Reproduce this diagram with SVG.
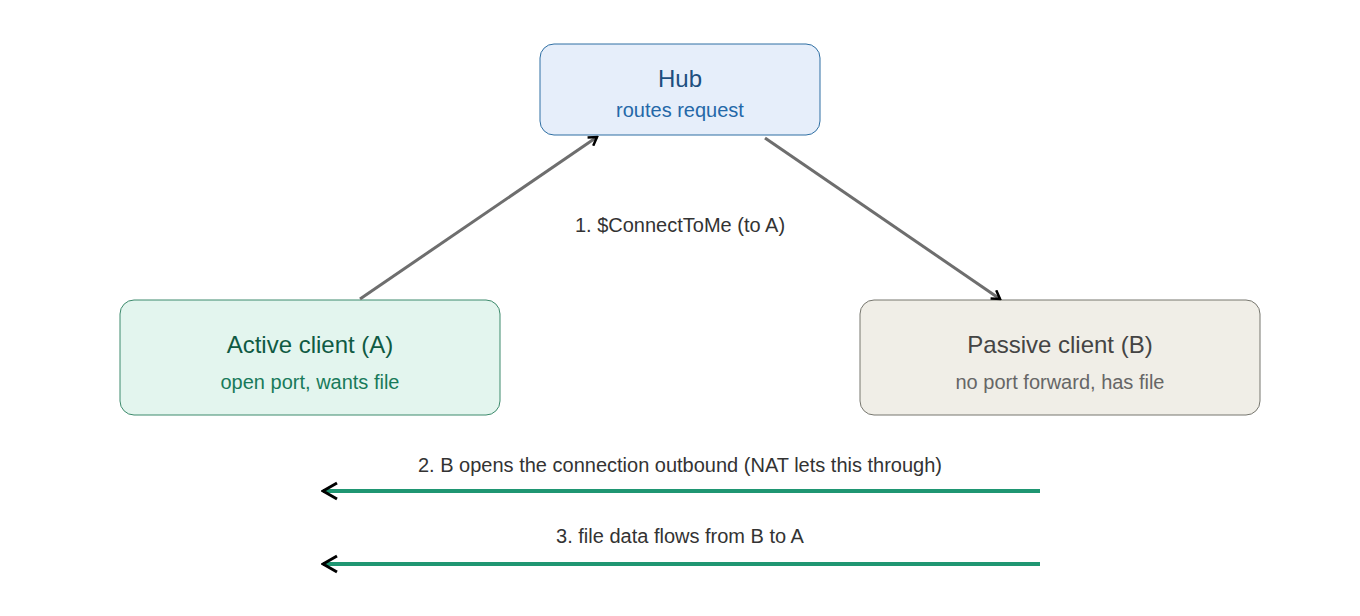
<svg xmlns="http://www.w3.org/2000/svg" width="1360" height="616" viewBox="0 0 1360 616">
<style>
text{font-family:"Liberation Sans",Arial,sans-serif;text-anchor:middle}
.t{font-size:24px}.s{font-size:20px}.l{font-size:20px;fill:#333}
.g{stroke:#6e6e6e;stroke-width:3;fill:none}
.f{stroke:#1f9672;stroke-width:4;fill:none}
</style>
<defs>
<marker id="a" viewBox="0 0 12 12" refX="10" refY="6" markerWidth="12" markerHeight="12" markerUnits="userSpaceOnUse" orient="auto"><path d="M2,1 L10,6 L2,11" fill="none" stroke="#000" stroke-width="2.5"/></marker>
<marker id="b" viewBox="0 0 20 20" refX="18" refY="10" markerWidth="20" markerHeight="20" markerUnits="userSpaceOnUse" orient="auto"><path d="M4,2 L18,10 L4,18" fill="none" stroke="#000" stroke-width="3"/></marker>
</defs>
<g id="hub"><rect x="540" y="44" width="280" height="91" rx="14" fill="#e6eefa" stroke="#2f6fa3"/><text class="t" x="680" y="87" fill="#1d4f7f">Hub</text><text class="s" x="680" y="117" fill="#2468a8">routes request</text></g>
<g id="active"><rect x="120" y="300" width="380" height="115" rx="14" fill="#e3f5ee" stroke="#3d8a6c"/><text class="t" x="310" y="353" fill="#0f5a43">Active client (A)</text><text class="s" x="310" y="389" fill="#187a5a">open port, wants file</text></g>
<g id="passive"><rect x="860" y="300" width="400" height="115" rx="14" fill="#f0eee7" stroke="#77776f"/><text class="t" x="1060" y="353" fill="#444">Passive client (B)</text><text class="s" x="1060" y="389" fill="#666">no port forward, has file</text></g>
<g id="connectors">
<line class="g" x1="360" y1="299" x2="597" y2="137" marker-end="url(#a)"/>
<line class="g" x1="765" y1="138" x2="1000" y2="299" marker-end="url(#a)"/>
<text class="l" x="680" y="232">1. $ConnectToMe (to A)</text>
<line class="f" x1="1040" y1="491" x2="323" y2="491" marker-end="url(#b)"/>
<text class="l" x="680" y="472">2. B opens the connection outbound (NAT lets this through)</text>
<line class="f" x1="1040" y1="564" x2="323" y2="564" marker-end="url(#b)"/>
<text class="l" x="680" y="543">3. file data flows from B to A</text>
</g>
</svg>
